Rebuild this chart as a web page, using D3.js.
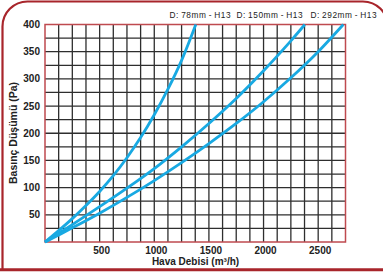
<!DOCTYPE html>
<html><head><meta charset="utf-8">
<script src="https://cdn.jsdelivr.net/npm/d3@7"></script>
<style>html,body{margin:0;padding:0;background:#fff;}svg{display:block;}</style>
</head><body>
<svg id="c" width="383" height="277"></svg>
<script>
// Data
const seriesNames = ["D:\u200978mm\u2009-\u2009H13", "D:\u2009150mm\u2009-\u2009H13", "D:\u2009292mm\u2009-\u2009H13"];
const flow78  = [0,125,250,375,500,625,750,875,1000,1125,1250,1380];
const dp78    = [0,21,43,67,93,122,155,192,234,281,334,400];
const flow150 = [0,250,500,750,1000,1250,1500,1750,2000,2250,2378];
const dp150   = [0,32,65,99,135,175,218,264,315,370,400];
const flow292 = [0,250,500,750,1000,1250,1500,1750,2000,2250,2500,2730];
const dp292   = [0,26,53,82,113,146,181,218,258,302,350,400];
const xTicks = [500,1000,1500,2000,2500];
const yTicks = [50,100,150,200,250,300,350,400];
const xTitle = "Hava Debisi (m³/h)";
const yTitle = "Basınç Düşümü (Pa)";

const svg = d3.select("#c");
const L = 45, R = 345.5, T = 24.5, B = 242;
const x = d3.scaleLinear().domain([0, 2750]).range([L, R]);
const y = d3.scaleLinear().domain([0, 400]).range([B, T]);

// Outer frame
svg.append("path")
  .attr("d", "M2.5,269.7 V26.5 A25,25 0 0 1 27.5,1.5 H362.9 A25,25 0 0 1 387.9,26.5 V269.7")
  .attr("fill", "none").attr("stroke", "#a8252b").attr("stroke-width", 2.2);
svg.append("line").attr("x1", 0).attr("x2", 383).attr("y1", 269.7).attr("y2", 269.7)
  .attr("stroke", "#a8252b").attr("stroke-width", 3);

// Grid
const g = svg.append("g");
g.selectAll(".vx").data(d3.range(125, 2750, 125)).join("line")
  .attr("x1", d => x(d)).attr("x2", d => x(d)).attr("y1", T).attr("y2", B)
  .attr("stroke", "#2e2e2e").attr("stroke-width", 1.3);
g.selectAll(".hy").data(d3.range(25, 400, 25)).join("line")
  .attr("x1", L).attr("x2", R).attr("y1", d => y(d)).attr("y2", d => y(d))
  .attr("stroke", "#2e2e2e").attr("stroke-width", 1.3);
g.append("rect").attr("x", L).attr("y", T).attr("width", R - L).attr("height", B - T)
  .attr("fill", "none").attr("stroke", "#bf4a4f").attr("stroke-width", 1.5);

// Curves
const line = d3.line().x(d => x(d[0])).y(d => y(d[1])).curve(d3.curveCatmullRom.alpha(0.5));
[[flow78, dp78], [flow150, dp150], [flow292, dp292]].forEach(([f, p]) => {
  svg.append("path").datum(f.map((v, i) => [v, p[i]]))
    .attr("d", line).attr("fill", "none").attr("stroke", "#18a9e2")
    .attr("stroke-width", 2.8).attr("stroke-linejoin", "round");
});

// Axes labels
const font = "'Liberation Sans', Arial, sans-serif";
svg.append("g").selectAll("text").data(yTicks).join("text")
  .attr("x", 40).attr("y", d => y(d)).attr("dy", "0.35em")
  .attr("text-anchor", "end").attr("font-family", font).attr("font-weight", "bold")
  .attr("font-size", 10).attr("fill", "#222").text(d => d);
svg.append("g").selectAll("text").data(xTicks).join("text")
  .attr("x", d => x(d) + 2).attr("y", 253.5)
  .attr("text-anchor", "middle").attr("font-family", font).attr("font-weight", "bold")
  .attr("font-size", 10).attr("fill", "#222").text(d => d);

svg.append("text").attr("x", 195.5).attr("y", 265).attr("text-anchor", "middle")
  .attr("font-family", font).attr("font-weight", "bold").attr("font-size", 10)
  .attr("fill", "#222").text(xTitle);
svg.append("text").attr("transform", "translate(17,133) rotate(-90)").attr("text-anchor", "middle")
  .attr("font-family", font).attr("font-weight", "bold").attr("font-size", 10.5)
  .attr("fill", "#222").text(yTitle);

// Series labels
const labX = [169.5, 236.5, 310.5];
svg.append("g").selectAll("text").data(seriesNames).join("text")
  .attr("x", (d, i) => labX[i]).attr("y", 18.3)
  .attr("font-family", font).attr("font-size", 8.3).attr("fill", "#222")
  .attr("textLength", (d, i) => i === 0 ? 61 : 66).attr("lengthAdjust", "spacing")
  .text(d => d);
</script>
</body></html>
